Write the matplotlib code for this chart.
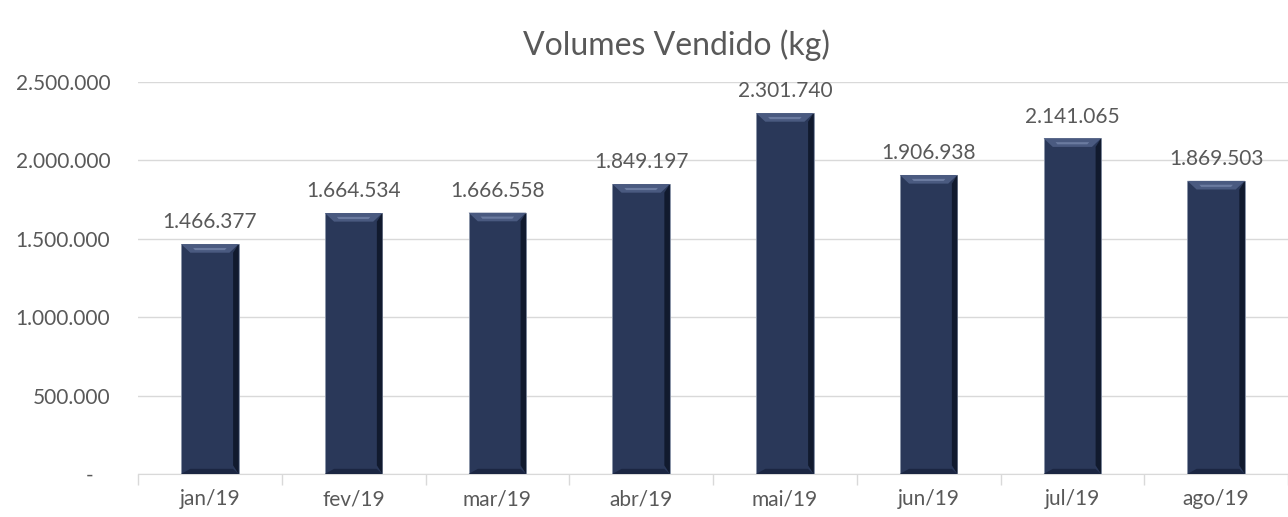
import numpy as np
import matplotlib.pyplot as plt
from matplotlib.patches import Polygon

months = ['jan/19', 'fev/19', 'mar/19', 'abr/19', 'mai/19', 'jun/19', 'jul/19', 'ago/19']
volumes = [1466377, 1664534, 1666558, 1849197, 2301740, 1906938, 2141065, 1869503]
yticks = [0, 500000, 1000000, 1500000, 2000000, 2500000]

plt.rcParams['font.family'] = ['Lato', 'DejaVu Sans']
txt = '#595959'

def fmt(v):
    return '-   ' if v == 0 else f'{v:,.0f}'.replace(',', '.')

fig = plt.figure(figsize=(12.88, 5.17), dpi=100)
ax = fig.add_axes([138/1288, 1 - 474/517, 1 - 138/1288, (474 - 82)/517])

x = np.arange(len(months))
bars = ax.bar(x, volumes, width=0.40, color='#2a3859', edgecolor='#8a94a8', linewidth=0.6, zorder=3)

# bevel look: light top band, dark right edge, darker bottom band
bh = 55000
for b in bars:
    x0, w, h = b.get_x(), b.get_width(), b.get_height()
    bw = w * 0.16
    ax.add_patch(Polygon([[x0, h], [x0 + w, h], [x0 + w - bw, h - bh], [x0 + bw, h - bh]],
                         closed=True, color='#4a5a80', zorder=4, lw=0))
    ax.add_patch(Polygon([[x0 + bw * 1.3, h - bh * 0.45], [x0 + w - bw * 1.3, h - bh * 0.45],
                          [x0 + w - bw * 1.5, h - bh * 0.7], [x0 + bw * 1.5, h - bh * 0.7]],
                         closed=True, color='#6b7ba0', zorder=4, lw=0))
    ax.add_patch(Polygon([[x0 + w, h], [x0 + w, 0], [x0 + w - bw * 0.6, bh], [x0 + w - bw * 0.6, h - bh]],
                         closed=True, color='#111a2e', zorder=4, lw=0))
    ax.add_patch(Polygon([[x0, 0], [x0 + w, 0], [x0 + w - bw * 0.6, bh * 0.6], [x0 + bw, bh * 0.6]],
                         closed=True, color='#1b2642', zorder=4, lw=0))
    ax.text(x0 + w / 2, h + 75000, fmt(h), ha='center', va='bottom', fontsize=15, color=txt)

ax.set_xlim(-0.5, 7.5 - 18/146)
ax.set_ylim(0, 2500000)
ax.set_yticks(yticks)
ax.set_yticklabels([fmt(v) for v in yticks], fontsize=15, color=txt)
ax.set_xticks(x)
ax.set_xticklabels(months, fontsize=15, color=txt)
ax.set_xticks(np.arange(-0.5, 8, 1), minor=True)
ax.tick_params(axis='x', which='major', length=0, pad=11)
ax.tick_params(axis='x', which='minor', length=8, color='#d9d9d9', width=1)
ax.tick_params(axis='y', length=0, pad=20)
ax.grid(axis='y', color='#d9d9d9', linewidth=1, zorder=0)
for s in ['top', 'right', 'left']:
    ax.spines[s].set_visible(False)
ax.spines['bottom'].set_color('#d9d9d9')

fig.text(676/1288, 1 - 45/517, 'Volumes Vendido (kg)', ha='center', va='center', fontsize=23, color=txt)

fig.savefig('out.png', dpi=100)
